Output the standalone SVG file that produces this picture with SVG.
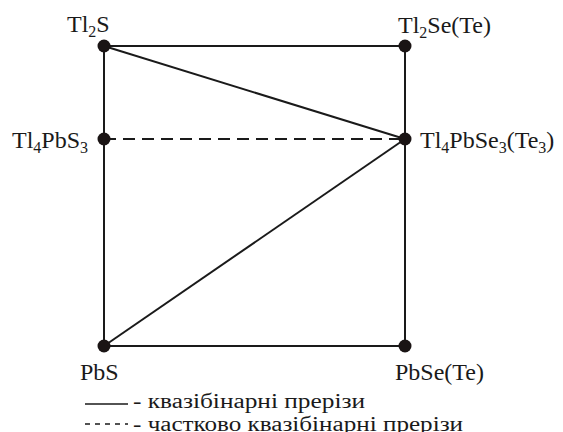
<svg xmlns="http://www.w3.org/2000/svg" width="563" height="432" viewBox="0 0 563 432">
<style>
.e{stroke:#1a1a1a;stroke-width:2;fill:none}
.d{stroke-dasharray:12 7}
.dot{fill:#1a1414}
text{font-family:'Liberation Serif','DejaVu Serif',serif;font-size:24px;fill:#1a1a1a}
.s{font-size:16px}
.lg{font-size:20px}
</style>
<rect width="563" height="432" fill="#fff"/>
<g id="connectors">
<line class="e" x1="104" y1="46" x2="405" y2="46"/>
<line class="e" x1="104" y1="46" x2="104" y2="346"/>
<line class="e" x1="405" y1="46" x2="405" y2="346"/>
<line class="e" x1="104" y1="346" x2="405" y2="346"/>
<line class="e" x1="104" y1="46" x2="405" y2="139"/>
<line class="e" x1="104" y1="346" x2="405" y2="139"/>
<line class="e d" x1="104" y1="139" x2="405" y2="139"/>
</g>
<g id="Tl2S"><circle class="dot" cx="104" cy="46" r="6.5"/><text x="67" y="32">Tl<tspan class="s" dy="5">2</tspan><tspan dy="-5">S</tspan></text></g>
<g id="Tl2SeTe"><circle class="dot" cx="405" cy="46" r="6.5"/><text x="398" y="33">Tl<tspan class="s" dy="5">2</tspan><tspan dy="-5">Se(Te)</tspan></text></g>
<g id="Tl4PbS3"><circle class="dot" cx="104" cy="139" r="6.5"/><text x="12" y="148">Tl<tspan class="s" dy="5">4</tspan><tspan dy="-5">PbS</tspan><tspan class="s" dy="5">3</tspan></text></g>
<g id="Tl4PbSe3Te3"><circle class="dot" cx="405" cy="139" r="6.5"/><text x="420" y="148">Tl<tspan class="s" dy="5">4</tspan><tspan dy="-5">PbSe</tspan><tspan class="s" dy="5">3</tspan><tspan dy="-5">(Te</tspan><tspan class="s" dy="5">3</tspan><tspan dy="-5">)</tspan></text></g>
<g id="PbS"><circle class="dot" cx="104" cy="346" r="6.5"/><text x="80" y="380">PbS</text></g>
<g id="PbSeTe"><circle class="dot" cx="405" cy="346" r="6.5"/><text x="395" y="380">PbSe(Te)</text></g>
<g id="legend">
<line x1="85" y1="404" x2="128" y2="404" stroke="#1a1a1a" stroke-width="1.3"/>
<text class="lg" x="133" y="408" textLength="232" lengthAdjust="spacingAndGlyphs">- квазібінарні прерізи</text>
<line x1="85" y1="424" x2="128" y2="424" stroke="#1a1a1a" stroke-width="1.3" stroke-dasharray="5 5"/>
<text class="lg" x="133" y="431" textLength="330" lengthAdjust="spacingAndGlyphs">- частково квазібінарні прерізи</text>
</g>
</svg>
